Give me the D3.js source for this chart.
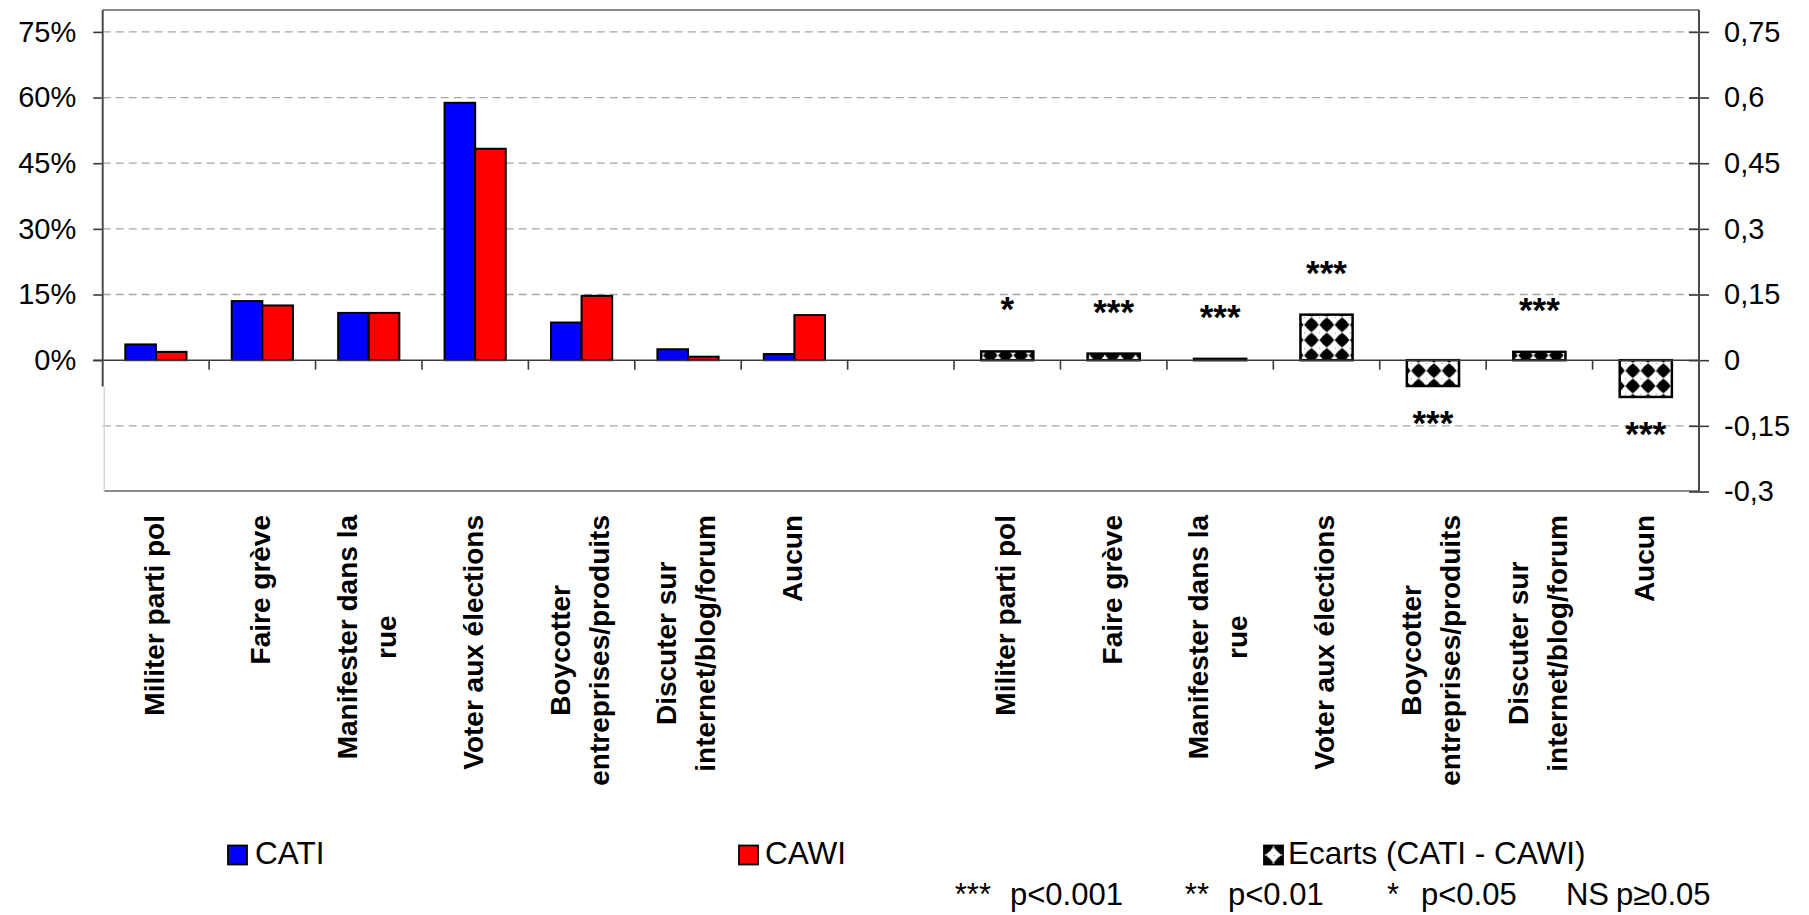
<!DOCTYPE html>
<html><head><meta charset="utf-8">
<script src="https://cdn.jsdelivr.net/npm/d3@7"></script>
<style>
html,body{margin:0;padding:0;background:#fff;}
svg{display:block;font-family:"Liberation Sans", Arial, sans-serif;}
</style></head><body>
<svg id="chart" width="1809" height="915"></svg>
<script>
// ---------- data ----------
const categories = ["Militer parti pol","Faire grève","Manifester dans la\nrue","Voter aux élections","Boycotter\nentreprises/produits","Discuter sur\ninternet/blog/forum","Aucun"];
const cati   = [0.036, 0.135, 0.108, 0.588, 0.086, 0.025, 0.014];
const cawi   = [0.019, 0.125, 0.108, 0.483, 0.147, 0.008, 0.103];
const ecarts = [0.020, 0.015, 0.003, 0.104, -0.059, 0.019, -0.084];
const significance = ["*","***","***","***","***","***","***"];
const leftTicks = [0, 0.15, 0.30, 0.45, 0.60, 0.75];
const leftTickLabels = ["0%","15%","30%","45%","60%","75%"];
const rightTicks = [-0.3, -0.15, 0, 0.15, 0.3, 0.45, 0.6, 0.75];
const rightTickLabels = ["-0,3","-0,15","0","0,15","0,3","0,45","0,6","0,75"];
const seriesNames = ["CATI","CAWI"];
const seriesColors = ["#0000ff","#ff0000"];
const ecartName = "Ecarts (CATI - CAWI)";
const pSymbols = ["***","**","*","NS"];
const pLabels = ["p<0.001","p<0.01","p<0.05","p≥0.05"];

// ---------- layout ----------
const yMin = -0.3, yMax = 0.8, leftAxisMin = -0.06;
const plotL = 102.7, plotR = 1699, plotT = 10, plotB = 491.5;
const svg = d3.select("#chart");

const y = d3.scaleLinear().domain([yMin, yMax]).range([plotB, plotT]);
const slots = [...categories.map(c => "A|" + c), "gap", ...categories.map(c => "B|" + c)];
const x = d3.scaleBand().domain(slots).range([plotL, plotR]).padding(0);
const bw = x.bandwidth();
const xs = d3.scaleBand().domain(seriesNames).range([0, bw]).paddingInner(0).paddingOuter(0.739);
const xe = d3.scaleBand().domain([ecartName]).range([0, bw]).paddingOuter(0.52);

// pattern
const defs = svg.append("defs");
const tile = 15.3;
function makePattern(id, ox, oy) {
  const p = defs.append("pattern").attr("id", id).attr("patternUnits", "userSpaceOnUse")
    .attr("width", tile).attr("height", tile).attr("x", ox).attr("y", oy);
  p.append("rect").attr("width", tile).attr("height", tile).attr("fill", "#fff");
  const c = tile / 2, h = 7.3, k = 0.58;
  p.append("path").attr("d",
    `M${c},${c-h}Q${c+h*k},${c-h*k} ${c+h},${c}Q${c+h*k},${c+h*k} ${c},${c+h}Q${c-h*k},${c+h*k} ${c-h},${c}Q${c-h*k},${c-h*k} ${c},${c-h}Z`)
    .attr("fill", "#000");
  [[0,0],[0,c],[c,0]].forEach(([a,b]) => p.append("rect").attr("x", a).attr("y", b).attr("width", 1).attr("height", 1).attr("fill", "#888"));
}
makePattern("diamonds", 3.35, -4.15);

// gridlines
svg.append("g").selectAll("line").data(rightTicks.filter(d => d !== 0 && d !== yMin)).join("line")
  .attr("x1", plotL).attr("x2", plotR).attr("y1", d => y(d)).attr("y2", d => y(d))
  .attr("stroke", "#a6a6a6").attr("stroke-width", 1.3).attr("stroke-dasharray", "8,5");

// plot area border
svg.append("line").attr("x1", plotL).attr("x2", plotR).attr("y1", y(yMax)).attr("y2", y(yMax)).attr("stroke", "#8a8a8a").attr("stroke-width", 2.2);
svg.append("line").attr("x1", plotL + 1.5).attr("x2", plotR).attr("y1", y(yMin) - 0.5).attr("y2", y(yMin) - 0.5).attr("stroke", "#8a8a8a").attr("stroke-width", 2.2);
svg.append("line").attr("x1", plotL + 1.5).attr("x2", plotL + 1.5).attr("y1", y(leftAxisMin)).attr("y2", y(yMin)).attr("stroke", "#cfcfcf").attr("stroke-width", 1.2);

// bars CATI / CAWI
const barData = [];
categories.forEach((c, i) => {
  barData.push({slot: "A|" + c, s: 0, v: cati[i]});
  barData.push({slot: "A|" + c, s: 1, v: cawi[i]});
});
svg.append("g").selectAll("rect").data(barData).join("rect")
  .attr("x", d => x(d.slot) + xs(seriesNames[d.s]))
  .attr("width", xs.bandwidth())
  .attr("y", d => y(Math.max(0, d.v)))
  .attr("height", d => Math.abs(y(d.v) - y(0)))
  .attr("fill", d => seriesColors[d.s]).attr("stroke", "#000").attr("stroke-width", 2);

// ecarts bars
const ecData = categories.map((c, i) => ({slot: "B|" + c, v: ecarts[i], s: significance[i]}));
svg.append("g").selectAll("rect").data(ecData).join("rect")
  .attr("x", d => x(d.slot) + xe(ecartName))
  .attr("width", xe.bandwidth())
  .attr("y", d => y(Math.max(0, d.v)))
  .attr("height", d => Math.max(0.6, Math.abs(y(d.v) - y(0))))
  .attr("fill", "url(#diamonds)").attr("stroke", "#000").attr("stroke-width", 2.5);

// significance labels
svg.append("g").selectAll("text").data(ecData).join("text")
  .attr("x", d => x(d.slot) + bw / 2)
  .attr("y", d => d.v >= 0 ? y(d.v) - 30 : y(d.v) + 49)
  .attr("text-anchor", "middle").attr("font-size", 35).attr("font-weight", "bold").attr("fill", "#000")
  .text(d => d.s);

// zero / category axis
svg.append("line").attr("x1", plotL - 9.5).attr("x2", plotR).attr("y1", y(0)).attr("y2", y(0)).attr("stroke", "#3a3a3a").attr("stroke-width", 1.6);
svg.append("g").selectAll("line").data(slots.slice(1)).join("line")
  .attr("x1", d => x(d)).attr("x2", d => x(d)).attr("y1", y(0)).attr("y2", y(0) + 9.5)
  .attr("stroke", "#3a3a3a").attr("stroke-width", 1.6);

// left axis
const leftAxis = d3.axisLeft(y).tickValues(leftTicks).tickFormat((d, i) => leftTickLabels[i]).tickSize(9.5).tickPadding(17);
const gL = svg.append("g").attr("transform", `translate(${plotL},0)`).call(leftAxis);
gL.select(".domain").remove();
gL.selectAll(".tick line").attr("stroke", "#3a3a3a").attr("stroke-width", 1.6);
gL.selectAll(".tick text").attr("font-size", 29).attr("font-family", "Liberation Sans, Arial, sans-serif").attr("fill", "#000");
svg.append("line").attr("x1", plotL).attr("x2", plotL).attr("y1", y(yMax)).attr("y2", y(leftAxisMin)).attr("stroke", "#4a4a4a").attr("stroke-width", 2);

// right axis
const rightAxis = d3.axisRight(y).tickValues(rightTicks).tickFormat((d, i) => rightTickLabels[i]).tickSize(10).tickPadding(15);
const gR = svg.append("g").attr("transform", `translate(${plotR},0)`).call(rightAxis);
gR.select(".domain").remove();
gR.selectAll(".tick line").attr("x1", -10).attr("x2", 10).attr("stroke", "#3a3a3a").attr("stroke-width", 1.6);
gR.selectAll(".tick text").attr("font-size", 29).attr("font-family", "Liberation Sans, Arial, sans-serif").attr("fill", "#000");
svg.append("line").attr("x1", plotR).attr("x2", plotR).attr("y1", y(yMax)).attr("y2", y(yMin)).attr("stroke", "#4a4a4a").attr("stroke-width", 2);

// category labels (rotated)
const labelTop = 515, lineH = 39;
slots.forEach(s => {
  if (s === "gap") return;
  const lines = s.split("|")[1].split("\n");
  const g = svg.append("g").attr("transform", `translate(${x(s) + bw / 2 - 2},${labelTop}) rotate(-90)`);
  const texts = lines.map((t, i) => g.append("text").attr("font-size", 28).attr("font-weight", "bold")
    .attr("text-anchor", "middle").attr("dy", "0.35em")
    .attr("y", (i - (lines.length - 1) / 2) * lineH).text(t));
  const maxLen = d3.max(texts, t => t.node().getComputedTextLength());
  texts.forEach(t => t.attr("x", -maxLen / 2));
});

// legend
const legendY = 855, sw = 19;
const legendItems = [
  {x: 228, label: seriesNames[0], fill: seriesColors[0], tx: 255},
  {x: 739, label: seriesNames[1], fill: seriesColors[1], tx: 765},
  {x: 1264, label: ecartName, fill: "url(#diamondsLegend)", tx: 1288}
];
makePattern("diamondsLegend", 1264 + sw / 2, legendY);
const lg = svg.append("g");
legendItems.forEach(it => {
  lg.append("rect").attr("x", it.x).attr("y", legendY - sw / 2).attr("width", sw).attr("height", sw)
    .attr("fill", it.fill).attr("stroke", "#000").attr("stroke-width", 1.8);
  lg.append("text").attr("x", it.tx).attr("y", legendY + 8.5).attr("font-size", 31.5).attr("fill", "#000").text(it.label);
});
const pLabX = [1010, 1228, 1421, 1616];
const pGap = [19, 19, 22, 7];
pSymbols.forEach((s, i) => {
  lg.append("text").attr("x", pLabX[i] - pGap[i]).attr("y", 905).attr("font-size", 31).attr("text-anchor", "end").text(s);
  lg.append("text").attr("x", pLabX[i]).attr("y", 905).attr("font-size", 31).text(pLabels[i]);
});
</script>
</body></html>
